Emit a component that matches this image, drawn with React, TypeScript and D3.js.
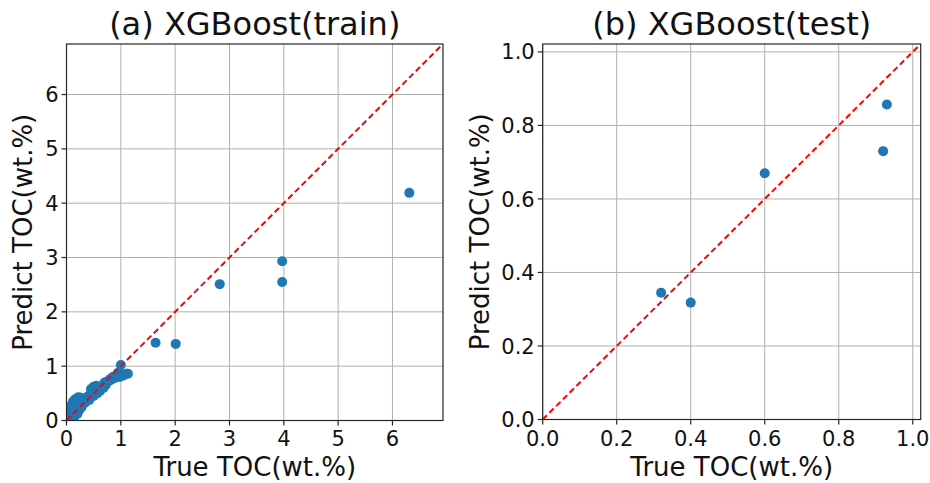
import React from "react";
import * as d3 from "d3";

// ---- Data ----
const trainTrue = [
  0.02, 0.04, 0.05, 0.06, 0.08, 0.1, 0.1, 0.12, 0.13, 0.15, 0.15, 0.17, 0.18, 0.2, 0.2,
  0.22, 0.24, 0.25, 0.27, 0.28, 0.3, 0.32, 0.35, 0.38, 0.4, 0.42, 0.45, 0.47, 0.5, 0.5,
  0.53, 0.55, 0.57, 0.6, 0.62, 0.65, 0.68, 0.7, 0.72, 0.75, 0.78, 0.8, 0.82, 0.85, 0.88,
  0.9, 0.93, 0.95, 0.98, 1.0, 1.02, 1.05, 1.1, 1.13,
  1.64, 2.01, 2.82, 3.97, 3.97, 6.31,
];
const trainPred = [
  0.05, 0.12, 0.02, 0.2, 0.1, 0.3, 0.05, 0.35, 0.15, 0.38, 0.08, 0.25, 0.4, 0.3, 0.12,
  0.43, 0.2, 0.35, 0.42, 0.25, 0.3, 0.38, 0.33, 0.4, 0.45, 0.38, 0.58, 0.48, 0.62, 0.45,
  0.52, 0.64, 0.5, 0.6, 0.55, 0.63, 0.6, 0.7, 0.65, 0.72, 0.73, 0.76, 0.75, 0.8, 0.78,
  0.82, 0.85, 0.88, 0.8, 1.02, 0.85, 0.83, 0.86, 0.86,
  1.43, 1.41, 2.51, 2.93, 2.55, 4.19,
];
const testTrue = [0.32, 0.4, 0.6, 0.92, 0.93];
const testPred = [0.345, 0.318, 0.67, 0.73, 0.857];

const trainTicks = [0, 1, 2, 3, 4, 5, 6];
const testTicks = [0, 0.2, 0.4, 0.6, 0.8, 1.0];

const trainMax = 6.93;
const testMax = 1.0215;

// ---- Styles ----
const FONT = "'DejaVu Sans', sans-serif";
const DOT = "#1f77b4";

type PanelProps = {
  left: number;
  right: number;
  top: number;
  bottom: number;
  xs: number[];
  ys: number[];
  ticks: number[];
  maxV: number;
  fmt: (v: number) => string;
  title: string;
};

function Panel({ left, right, top, bottom, xs, ys, ticks, maxV, fmt, title }: PanelProps) {
  const x = d3.scaleLinear().domain([0, maxV]).range([left, right]);
  const y = d3.scaleLinear().domain([0, maxV]).range([bottom, top]);
  const cx = (left + right) / 2;
  const cy = (top + bottom) / 2;
  const pts = xs.map((v, i) => [v, ys[i]] as [number, number]);
  const line = d3.line<[number, number]>().x((d) => x(d[0])).y((d) => y(d[1]));
  return (
    <g>
      <defs>
        <clipPath id={`clip-${left}`}>
          <rect x={left} y={top} width={right - left} height={bottom - top} />
        </clipPath>
      </defs>
      {/* grid */}
      {ticks.map((t) => (
        <g key={"g" + t}>
          <line x1={x(t)} x2={x(t)} y1={top} y2={bottom} stroke="#b0b0b0" strokeWidth={1} />
          <line x1={left} x2={right} y1={y(t)} y2={y(t)} stroke="#b0b0b0" strokeWidth={1} />
        </g>
      ))}
      {/* points */}
      <g clipPath={`url(#clip-${left})`}>
        {pts.map((p, i) => (
          <circle key={i} cx={x(p[0])} cy={y(p[1])} r={5} fill={DOT} />
        ))}
        <path
          d={line([[0, 0], [maxV, maxV]]) || ""}
          stroke="#ff0000"
          strokeWidth={2}
          strokeDasharray="6,3.5"
          fill="none"
        />
      </g>
      {/* spines */}
      <rect x={left} y={top} width={right - left} height={bottom - top} fill="none" stroke="#262626" strokeWidth={1.2} />
      {/* ticks */}
      {ticks.map((t) => (
        <g key={"t" + t}>
          <line x1={x(t)} x2={x(t)} y1={bottom} y2={bottom + 5} stroke="#262626" strokeWidth={1.2} />
          <text x={x(t)} y={446} textAnchor="middle" fontSize={21} fontFamily={FONT} fill="#111">
            {fmt(t)}
          </text>
          <line x1={left - 5} x2={left} y1={y(t)} y2={y(t)} stroke="#262626" strokeWidth={1.2} />
          <text x={left - 8} y={y(t)} dy="0.36em" textAnchor="end" fontSize={21} fontFamily={FONT} fill="#111">
            {fmt(t)}
          </text>
        </g>
      ))}
      {/* labels */}
      <text x={cx} y={476} textAnchor="middle" fontSize={26} fontFamily={FONT} fill="#111">
        True TOC(wt.%)
      </text>
      <text
        transform={`translate(${left - (left > 300 ? 54 : 35)},${cy}) rotate(-90)`}
        textAnchor="middle"
        fontSize={26}
        fontFamily={FONT}
        fill="#111"
      >
        Predict TOC(wt.%)
      </text>
      <text x={cx} y={35} textAnchor="middle" fontSize={32} fontFamily={FONT} fill="#111">
        {title}
      </text>
    </g>
  );
}

export default function App() {
  return (
    <svg width={930} height={483} style={{ position: "absolute", left: 0, top: 0, background: "#fff" }}>
      <rect width={930} height={483} fill="#fff" />
      <Panel
        left={66.5}
        right={443}
        top={44}
        bottom={420.5}
        xs={trainTrue}
        ys={trainPred}
        ticks={trainTicks}
        maxV={trainMax}
        fmt={(v) => d3.format("d")(v)}
        title="(a) XGBoost(train)"
      />
      <Panel
        left={542.7}
        right={920.7}
        top={44}
        bottom={419.5}
        xs={testTrue}
        ys={testPred}
        ticks={testTicks}
        maxV={testMax}
        fmt={(v) => d3.format(".1f")(v)}
        title="(b) XGBoost(test)"
      />
    </svg>
  );
}
